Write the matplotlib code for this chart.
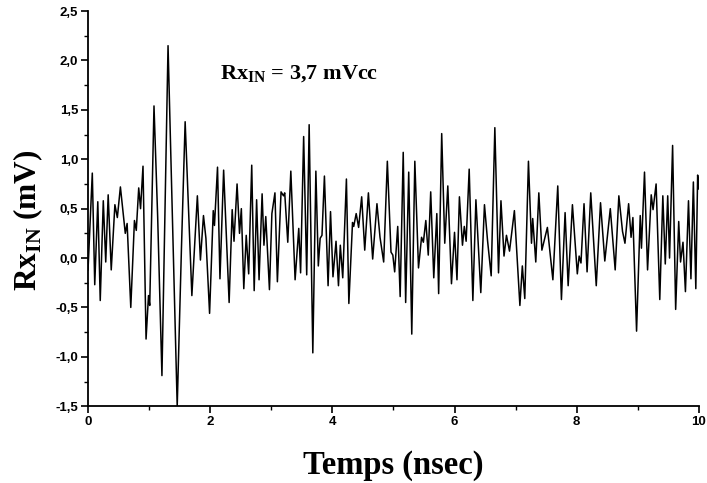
import matplotlib.pyplot as plt
from matplotlib.ticker import MultipleLocator, FuncFormatter

# digitized extrema of the received signal
temps = [0.00, 0.07, 0.11, 0.16, 0.20, 0.25, 0.29, 0.33, 0.38, 0.44, 0.48, 0.53, 0.61, 0.64,
         0.70, 0.76, 0.79, 0.83, 0.86, 0.90, 0.95, 0.99, 1.01, 1.08, 1.14, 1.21, 1.31, 1.46,
         1.53, 1.59, 1.70, 1.79, 1.84, 1.89, 1.93, 1.99, 2.05, 2.07, 2.12, 2.16, 2.22, 2.31,
         2.36, 2.39, 2.44, 2.48, 2.51, 2.55, 2.59, 2.63, 2.68, 2.72, 2.76, 2.80, 2.85, 2.88,
         2.91, 2.97, 3.01, 3.06, 3.10, 3.16, 3.20, 3.22, 3.27, 3.32, 3.39, 3.45, 3.48, 3.53,
         3.58, 3.62, 3.68, 3.73, 3.77, 3.80, 3.83, 3.87, 3.93, 3.97, 4.01, 4.06, 4.10, 4.13,
         4.17, 4.23, 4.27, 4.33, 4.35, 4.39, 4.43, 4.48, 4.53, 4.59, 4.66, 4.73, 4.78, 4.84,
         4.90, 4.96, 4.99, 5.02, 5.07, 5.11, 5.16, 5.20, 5.25, 5.30, 5.35, 5.41, 5.46, 5.49,
         5.53, 5.57, 5.61, 5.66, 5.71, 5.74, 5.79, 5.84, 5.89, 5.95, 6.00, 6.04, 6.08, 6.13,
         6.16, 6.19, 6.24, 6.30, 6.35, 6.43, 6.49, 6.54, 6.60, 6.66, 6.72, 6.76, 6.81, 6.85,
         6.90, 6.98, 7.07, 7.11, 7.15, 7.21, 7.26, 7.28, 7.33, 7.38, 7.43, 7.52, 7.61, 7.69,
         7.75, 7.81, 7.86, 7.93, 8.01, 8.04, 8.07, 8.12, 8.17, 8.23, 8.32, 8.39, 8.46, 8.55,
         8.63, 8.69, 8.75, 8.79, 8.85, 8.89, 8.92, 8.98, 9.04, 9.06, 9.11, 9.16, 9.22, 9.25,
         9.30, 9.36, 9.41, 9.45, 9.49, 9.52, 9.57, 9.62, 9.67, 9.70, 9.74, 9.78, 9.83, 9.87,
         9.91, 9.95, 9.98, 10.00]
rx_in = [-0.12, 0.86, -0.27, 0.57, -0.43, 0.58, -0.04, 0.64, -0.12, 0.54, 0.41, 0.72, 0.25, 0.35,
         -0.50, 0.38, 0.28, 0.71, 0.50, 0.93, -0.82, -0.38, -0.48, 1.54, 0.42, -1.19, 2.15, -1.50,
         0.11, 1.38, -0.38, 0.63, -0.02, 0.43, 0.20, -0.56, 0.48, 0.33, 0.92, -0.21, 0.89, -0.45,
         0.49, 0.17, 0.75, 0.25, 0.50, -0.31, 0.23, -0.16, 0.94, -0.33, 0.59, -0.22, 0.65, 0.13,
         0.42, -0.32, 0.45, 0.66, -0.24, 0.67, 0.63, 0.66, 0.16, 0.88, -0.22, 0.30, -0.15, 1.23,
         -0.17, 1.35, -0.96, 0.88, -0.08, 0.20, 0.23, 0.83, -0.28, 0.47, -0.19, 0.17, -0.28, 0.13,
         -0.20, 0.80, -0.46, 0.36, 0.32, 0.45, 0.31, 0.62, 0.08, 0.66, -0.01, 0.55, 0.21, -0.04,
         0.98, 0.06, 0.03, -0.14, 0.32, -0.39, 1.07, -0.45, 0.87, -0.77, 0.98, -0.10, 0.21, 0.16,
         0.38, 0.03, 0.67, -0.20, 0.45, -0.36, 1.26, 0.15, 0.73, -0.26, 0.26, -0.22, 0.62, 0.13,
         0.32, 0.17, 0.90, -0.43, 0.59, -0.35, 0.54, 0.18, -0.18, 1.32, -0.15, 0.58, 0.02, 0.23,
         0.07, 0.48, -0.48, -0.08, -0.41, 0.98, 0.15, 0.40, -0.04, 0.66, 0.08, 0.31, -0.22, 0.73,
         -0.42, 0.46, -0.28, 0.54, -0.16, 0.02, -0.05, 0.55, -0.14, 0.66, -0.28, 0.56, -0.03, 0.50,
         -0.12, 0.63, 0.27, 0.15, 0.55, 0.21, 0.41, -0.74, 0.43, 0.10, 0.87, -0.12, 0.64, 0.49,
         0.75, -0.42, 0.63, -0.06, 0.63, 0.00, 1.14, -0.52, 0.37, -0.04, 0.16, -0.34, 0.58, -0.21,
         0.77, -0.31, 0.84, 0.70]

plt.rcParams['mathtext.fontset'] = 'custom'
plt.rcParams['mathtext.rm'] = 'Liberation Serif:bold'
plt.rcParams['mathtext.bf'] = 'Liberation Serif:bold'

fig = plt.figure(figsize=(7.07, 4.83), dpi=100)
ax = fig.add_axes([0.1245, 0.159, 0.864, 0.818])

ax.plot(temps, rx_in, color='black', linewidth=1.1)

ax.set_xlim(0, 10)
ax.set_ylim(-1.5, 2.5)
ax.xaxis.set_major_locator(MultipleLocator(2))
ax.xaxis.set_minor_locator(MultipleLocator(1))
ax.yaxis.set_major_locator(MultipleLocator(0.5))
ax.yaxis.set_minor_locator(MultipleLocator(0.25))
ax.yaxis.set_major_formatter(FuncFormatter(lambda v, p: f'{v:.1f}'.replace('.', ',')))
ax.xaxis.set_major_formatter(FuncFormatter(lambda v, p: f'{v:.0f}'))

for s in ['top', 'right']:
    ax.spines[s].set_visible(False)
for s in ['left', 'bottom']:
    ax.spines[s].set_linewidth(1.3)

ax.tick_params(which='major', direction='out', length=5, width=1.2, pad=2)
ax.tick_params(which='minor', direction='out', length=3, width=1.0)
for lab in ax.get_xticklabels() + ax.get_yticklabels():
    lab.set_fontfamily('Liberation Sans')
    lab.set_fontweight('bold')
    lab.set_fontsize(9.5)

ax.set_xlabel('Temps (nsec)', fontfamily='Liberation Serif', fontweight='bold',
              fontsize=23.5)
ax.xaxis.set_label_coords(0.5, -0.11)
ax.set_ylabel(r'Rx$_{\mathrm{IN}}$ (mV)', fontfamily='Liberation Serif', fontweight='bold',
              fontsize=22.5)
ax.yaxis.set_label_coords(-0.07, 0.47)

ax.text(2.16, 1.81, r'Rx$_{\mathrm{IN}}$ = 3,7 mVcc', fontfamily='Liberation Serif',
        fontweight='bold', fontsize=16, va='baseline', ha='left')

fig.savefig('out.png', dpi=100)
